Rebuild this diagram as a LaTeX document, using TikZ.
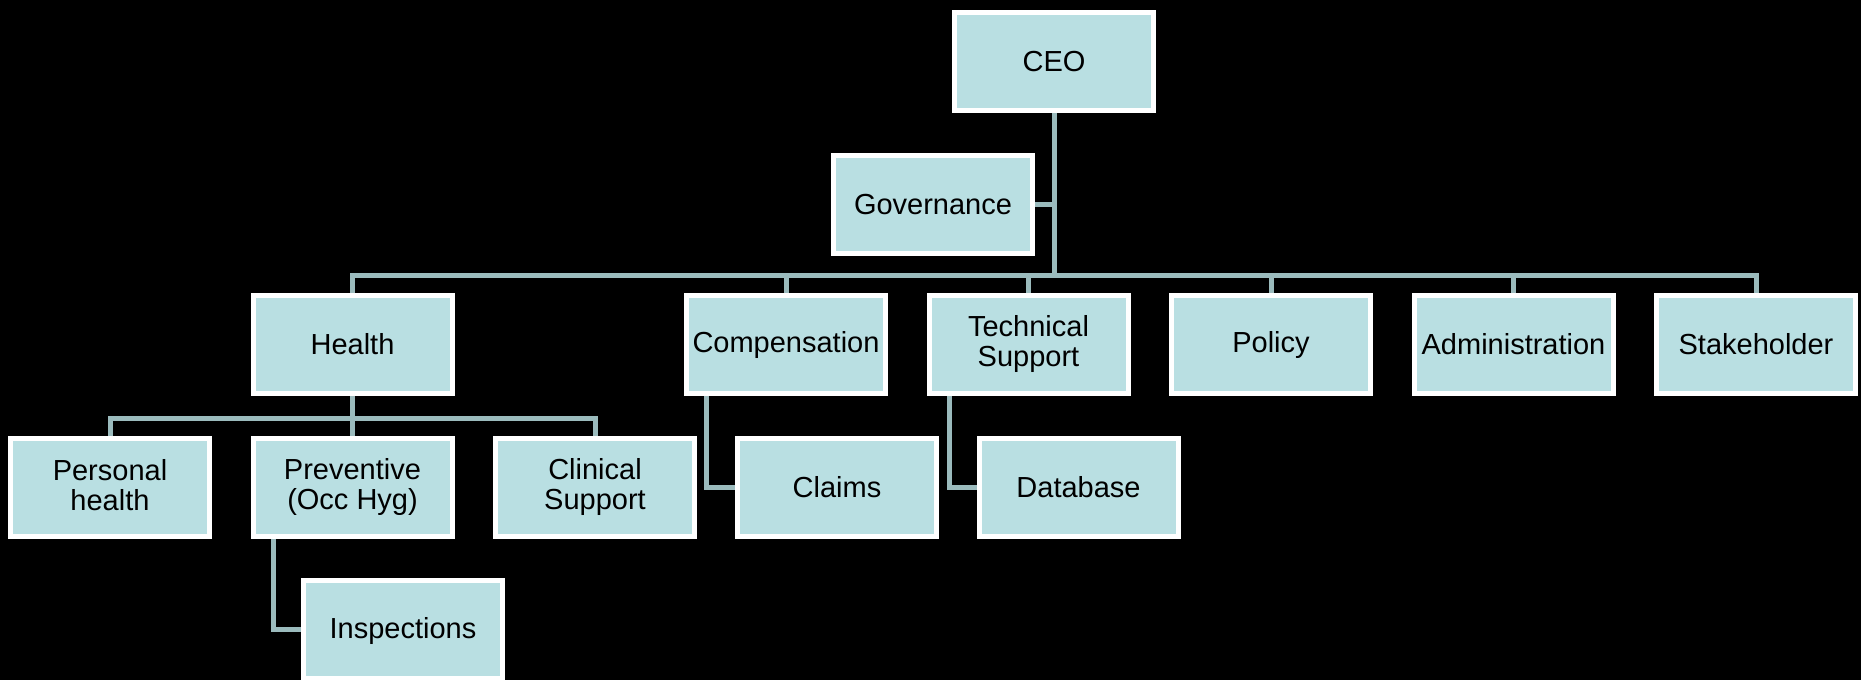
\documentclass[tikz,border=0pt]{standalone}
\usepackage{fontspec}
\setmainfont{Liberation Sans}
\usetikzlibrary{positioning,backgrounds}
\definecolor{boxfill}{HTML}{B9DFE2}
\definecolor{linkline}{HTML}{9BBBBD}

\begin{document}
\begin{tikzpicture}[x=0.5pt,y=-0.5pt,
   unit/.style={draw=white,fill=boxfill,line width=2.5pt,
     minimum width=99.5pt,minimum height=49pt,inner sep=2pt,align=center,
     font=\fontsize{14.5}{15}\selectfont,
     execute at begin node={\rule{0pt}{12pt}},
     execute at end node={\rule[-1.6pt]{0pt}{1.6pt}}},
   link/.style={draw=linkline,line width=2.5pt},
   node distance=20pt and 19.25pt]
\path[use as bounding box] (0,0) rectangle (1861,680);
% top
\node[unit] (ceo) at (1054,61.5) {CEO};
\node[unit,below=19.75pt of ceo,xshift=-60.5pt] (governance) {Governance};
% first level
\node[unit] (health) at (352.5,344) {Health};
\node[unit,right=114.75pt of health] (compensation) {Compensation};
\node[unit,right=of compensation] (technical) {Technical\\Support};
\node[unit,right=of technical] (policy) {Policy};
\node[unit,right=of policy] (administration) {Administration};
\node[unit,right=of administration] (stakeholder) {Stakeholder};
% second level
\node[unit,below=of health] (preventive) {Preventive\\(Occ Hyg)};
\node[unit,left=of preventive] (personal) {Personal\\health};
\node[unit,right=of preventive] (clinical) {Clinical\\Support};
\node[unit,below=of compensation,xshift=25.5pt] (claims) {Claims};
\node[unit,below=of technical,xshift=25pt] (database) {Database};
\node[unit,below=19.75pt of preventive,xshift=25.25pt] (inspections) {Inspections};
% connectors
\begin{scope}[on background layer]
  \fill[black] (0,0) rectangle (1861,680);
  \coordinate (bus) at (0,275);
  \coordinate (healthbus) at (0,418);
  \draw[link] (ceo.south) -- (ceo |- bus);
  \draw[link] (governance.east) -- (governance -| ceo);
  \draw[link] (health.north) |- (stakeholder |- bus) -- (stakeholder.north);
  \foreach \n in {compensation,technical,policy,administration}
    \draw[link] (\n.north) -- (\n |- bus);
  \draw[link] (health.south) -- (preventive.north);
  \draw[link] (personal.north) |- (clinical |- healthbus) -- (clinical.north);
  \draw[link] ([xshift=11.25pt]compensation.south west) |- (claims.west);
  \draw[link] ([xshift=11.25pt]technical.south west) |- (database.west);
  \draw[link] ([xshift=11.25pt]preventive.south west) |- (inspections.west);
\end{scope}
\end{tikzpicture}
\end{document}
